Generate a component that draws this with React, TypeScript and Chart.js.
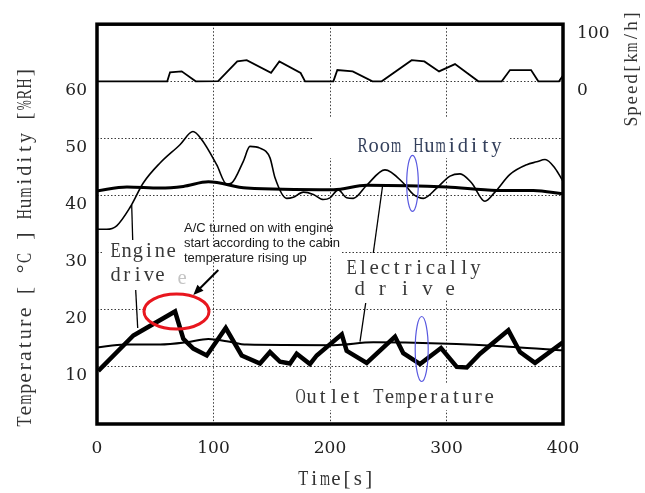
import React, { useEffect, useRef } from "react";
import { Chart, registerables } from "chart.js";

Chart.register(...registerables);

// ---------------- data ----------------
const timeTicks = [0, 100, 200, 300, 400];
const leftTicks = [10, 20, 30, 40, 50, 60];
const speedTicks = [0, 100];

const speedTime = [0, 60.3, 62.7, 72.7, 84.7, 104, 120.4, 128.5, 149.4, 156.5, 174.8, 178.6, 202.9, 206.3, 219.5, 236.4, 244.4, 270.1, 281, 293.6, 307.3, 327.3, 347.4, 354.5, 372.6, 378.8, 396.6, 400];
const speedKmh = [0, 0, 15.7, 17.4, 0, 0.5, 34.8, 37, 15, 34.8, 14.5, 0, 0, 19.7, 17.4, 0, 0, 37, 34.8, 17.4, 30.2, 0, 0, 19.7, 19.7, 0, 0, 10];

const humidityTime = [0, 8.3, 16.9, 28.3, 39.7, 54.1, 71.2, 82.4, 89.8, 102.7, 111.3, 115.6, 125.6, 131.3, 139.9, 148.5, 152.8, 162.8, 168.5, 177.1, 185.7, 194.3, 200, 207.1, 214.3, 220, 231.5, 247.2, 262.9, 271.5, 280.1, 291.6, 303, 311.6, 321.6, 333, 341.6, 354.5, 368.9, 377.4, 384.6, 393.1, 400];
const humidityRH = [34.1, 34.1, 34.7, 37.9, 42.2, 45.7, 48.9, 51.2, 49.8, 45.4, 42.0, 42.2, 46.0, 48.6, 48.3, 46.6, 43.1, 39.5, 39.7, 40.6, 40.2, 39.3, 39.6, 41.0, 39.6, 39.5, 41.8, 44.5, 42.2, 40.2, 39.5, 41.3, 43.4, 43.8, 42.2, 39.0, 40.6, 43.7, 45.4, 45.9, 46.3, 44.8, 42.5];

const upperTime = [0, 25.7, 54.1, 74.1, 95.6, 128.5, 202.9, 231.5, 300.2, 343.1, 374.6, 400];
const upperValue = [40.8, 41.5, 41.3, 41.6, 42.4, 41.3, 41.0, 41.8, 41.5, 40.9, 40.9, 40.3];

const lowerTime = [0, 24.0, 54.1, 77, 95.6, 111.3, 128.5, 202.9, 237.2, 294.5, 357.4, 400];
const lowerValue = [13.4, 13.9, 13.9, 14.3, 14.9, 14.5, 13.9, 13.8, 14.3, 14.1, 13.5, 12.9];

const outletTime = [1.1, 31.2, 67, 74.1, 82.7, 94.2, 110.5, 124.2, 139.9, 148.5, 157.1, 165.7, 171.4, 182.8, 188.6, 210.1, 214.3, 231.5, 255.8, 262.9, 277.3, 295.3, 308.8, 317.4, 328.8, 353.1, 363.1, 376, 400];
const outletValue = [9.3, 15.5, 19.7, 14.9, 13.2, 12.0, 16.8, 12.0, 10.6, 12.6, 10.9, 10.6, 12.3, 10.5, 12.0, 15.7, 12.8, 10.7, 15.3, 12.4, 10.5, 13.3, 10.0, 9.9, 12.3, 16.4, 12.6, 10.7, 14.3];

// ---------------- texts ----------------
const leftTitle = "Temperature [ °C ] Humidity [%RH]";
const rightTitle = "Speed[km/h]";
const xTitle = "Time[s]";
const acNote = ["A/C turned on with engine", "start according to the cabin", "temperature rising up"];

const SERIF = "'Liberation Serif', 'Times New Roman', serif";
const TICK_FONT = { family: "'DejaVu Serif', serif", size: 17 };

const zip = (xs: number[], ys: number[]) => xs.map((x, i) => ({ x, y: ys[i] }));

function monoText(
  ctx: CanvasRenderingContext2D,
  text: string,
  x: number,
  y: number,
  cell: number,
  size: number,
  color: string,
  align: "left" | "center" = "left"
) {
  ctx.save();
  ctx.font = `${size}px ${SERIF}`;
  ctx.fillStyle = color;
  ctx.textAlign = "center";
  ctx.textBaseline = "alphabetic";
  const total = text.length * cell;
  const start = align === "center" ? x - total / 2 : x;
  for (let i = 0; i < text.length; i++) {
    const ch = text[i];
    if (ch === " ") continue;
    const w = ctx.measureText(ch).width;
    const maxW = cell * 0.92;
    const sx = w > maxW ? maxW / w : 1;
    ctx.save();
    ctx.translate(start + i * cell + cell / 2, y);
    ctx.scale(sx, 1);
    ctx.fillText(ch, 0, 0);
    ctx.restore();
  }
  ctx.restore();
}

const decorPlugin = {
  id: "decor",
  beforeDatasetsDraw(chart: any) {
    const ctx: CanvasRenderingContext2D = chart.ctx;
    ctx.save();
    ctx.fillStyle = "#ffffff";
    const erase = [
      [313, 117, 510, 158],
      [104, 240, 180, 288],
      [180, 248, 342, 256],
      [345, 256, 485, 300],
      [292, 384, 500, 410],
    ];
    for (const [x0, y0, x1, y1] of erase) ctx.fillRect(x0, y0, x1 - x0, y1 - y0);
    ctx.beginPath();
    ctx.ellipse(176.5, 311.5, 32.5, 17.5, 0, 0, Math.PI * 2);
    ctx.fill();
    ctx.restore();
  },
  afterDatasetsDraw(chart: any) {
    const ctx: CanvasRenderingContext2D = chart.ctx;
    const a = chart.chartArea;
    ctx.save();

    // frame
    ctx.strokeStyle = "#000";
    ctx.lineWidth = 3.5;
    ctx.strokeRect(a.left, a.top, a.right - a.left, a.bottom - a.top);

    // labels in plot
    const txt = "#383838";
    monoText(ctx, "Room Humidity", 357, 152, 11.15, 22, "#34405c");
    monoText(ctx, "Engine", 110, 257, 11.1, 21, txt);
    monoText(ctx, "drive", 110, 281, 11.1, 21, txt);
    monoText(ctx, "e", 177, 284, 10, 21, "#c4c4c4");
    monoText(ctx, "Electrically", 346, 274, 11.25, 21, txt);
    monoText(ctx, "d r i v e", 354, 295, 11.3, 21, txt);
    monoText(ctx, "Outlet Temperature", 295, 403, 11.1, 21, txt);

    // A/C note
    ctx.font = "13px 'Liberation Sans', Arial, sans-serif";
    ctx.fillStyle = "#1a1a1a";
    ctx.textAlign = "left";
    ctx.textBaseline = "alphabetic";
    acNote.forEach((line, i) => ctx.fillText(line, 184, 232 + i * 15));

    // leader lines
    ctx.strokeStyle = "#000";
    ctx.lineWidth = 1.3;
    const leaders = [
      [131.7, 205, 132.7, 240],
      [135.7, 290, 137.7, 328],
      [382.7, 185, 373.3, 253],
      [365.7, 303, 360, 341.7],
    ];
    for (const [x0, y0, x1, y1] of leaders) {
      ctx.beginPath();
      ctx.moveTo(x0, y0);
      ctx.lineTo(x1, y1);
      ctx.stroke();
    }

    // arrow
    const ax0 = 218.3, ay0 = 270, ax1 = 193.3, ay1 = 295;
    ctx.lineWidth = 2;
    ctx.beginPath();
    ctx.moveTo(ax0, ay0);
    ctx.lineTo(ax1 + 5, ay1 - 5);
    ctx.stroke();
    const ang = Math.atan2(ay1 - ay0, ax1 - ax0);
    ctx.fillStyle = "#000";
    ctx.beginPath();
    ctx.moveTo(ax1, ay1);
    ctx.lineTo(ax1 - 11 * Math.cos(ang - 0.4), ay1 - 11 * Math.sin(ang - 0.4));
    ctx.lineTo(ax1 - 11 * Math.cos(ang + 0.4), ay1 - 11 * Math.sin(ang + 0.4));
    ctx.closePath();
    ctx.fill();

    // red ellipse
    ctx.strokeStyle = "#e8161e";
    ctx.lineWidth = 3;
    ctx.beginPath();
    ctx.ellipse(176.5, 311.5, 32.5, 17.5, 0, 0, Math.PI * 2);
    ctx.stroke();

    // blue ellipses
    ctx.strokeStyle = "#5858e0";
    ctx.lineWidth = 1.2;
    ctx.beginPath();
    ctx.ellipse(412.5, 183.3, 5.8, 28, 0, 0, Math.PI * 2);
    ctx.stroke();
    ctx.beginPath();
    ctx.ellipse(421.7, 349, 6.5, 32.5, 0, 0, Math.PI * 2);
    ctx.stroke();

    // axis titles
    ctx.save();
    ctx.translate(31, 247);
    ctx.rotate(-Math.PI / 2);
    monoText(ctx, leftTitle, 0, 0, 10.9, 22, "#333", "center");
    ctx.restore();

    ctx.save();
    ctx.translate(637, 68.5);
    ctx.rotate(-Math.PI / 2);
    monoText(ctx, rightTitle, 0, 0, 10.6, 19, "#333", "center");
    ctx.restore();

    monoText(ctx, xTitle, 336, 485, 10.9, 21, "#333", "center");

    ctx.restore();
  },
};

export default function App() {
  const ref = useRef<HTMLCanvasElement | null>(null);

  useEffect(() => {
    document.body.style.margin = "0";
    const canvas = ref.current;
    if (!canvas) return;
    const gridColor = (c: any) => {
      const v = c.tick ? c.tick.value : null;
      return v === 0 || v === 400 ? "rgba(0,0,0,0)" : "#3a3a3a";
    };
    const chart = new Chart(canvas, {
      type: "line",
      data: {
        datasets: [
          {
            label: "Outlet Temperature",
            data: zip(outletTime, outletValue),
            borderColor: "#000",
            borderWidth: 4.5,
            pointRadius: 0,
            tension: 0,
            yAxisID: "y",
          },
          {
            label: "Temperature (lower)",
            data: zip(lowerTime, lowerValue),
            borderColor: "#000",
            borderWidth: 2,
            pointRadius: 0,
            cubicInterpolationMode: "monotone",
            yAxisID: "y",
          },
          {
            label: "Temperature (upper)",
            data: zip(upperTime, upperValue),
            borderColor: "#000",
            borderWidth: 3,
            pointRadius: 0,
            cubicInterpolationMode: "monotone",
            yAxisID: "y",
          },
          {
            label: "Room Humidity",
            data: zip(humidityTime, humidityRH),
            borderColor: "#000",
            borderWidth: 1.6,
            pointRadius: 0,
            cubicInterpolationMode: "monotone",
            yAxisID: "y",
          },
          {
            label: "Speed",
            data: zip(speedTime, speedKmh),
            borderColor: "#000",
            borderWidth: 1.8,
            pointRadius: 0,
            tension: 0,
            yAxisID: "y2",
          },
        ],
      },
      options: {
        responsive: false,
        animation: false,
        devicePixelRatio: 1,
        layout: { padding: { top: 22, left: 0, right: 0, bottom: 0 } },
        plugins: { legend: { display: false }, tooltip: { enabled: false } },
        scales: {
          x: {
            type: "linear",
            min: 0,
            max: 400,
            afterBuildTicks: (s: any) => {
              s.ticks = timeTicks.map((v) => ({ value: v }));
            },
            afterFit: (s: any) => {
              s.height = 69;
            },
            ticks: { font: TICK_FONT, color: "#222", padding: 14, maxRotation: 0, autoSkip: false },
            grid: { drawTicks: false, color: gridColor, lineWidth: 1 },
            border: { display: false, dash: [1.5, 2] },
          },
          y: {
            position: "left",
            min: 0,
            max: 70,
            afterBuildTicks: (s: any) => {
              s.ticks = leftTicks.map((v) => ({ value: v }));
            },
            afterFit: (s: any) => {
              s.width = 97;
            },
            ticks: { font: TICK_FONT, color: "#222", padding: 10, labelOffset: 9 },
            grid: { drawTicks: false, color: "#3a3a3a", lineWidth: 1 },
            border: { display: false, dash: [1.5, 2] },
          },
          y2: {
            position: "right",
            min: -600,
            max: 100,
            afterBuildTicks: (s: any) => {
              s.ticks = speedTicks.map((v) => ({ value: v }));
            },
            afterFit: (s: any) => {
              s.width = 82;
            },
            ticks: { font: TICK_FONT, color: "#222", padding: 14, labelOffset: 9 },
            grid: { display: false, drawTicks: false },
            border: { display: false },
          },
        },
      },
      plugins: [decorPlugin],
    } as any);
    return () => chart.destroy();
  }, []);

  return (
    <div style={{ width: 645, height: 493 }}>
      <canvas ref={ref} width={645} height={493} style={{ display: "block" }} />
    </div>
  );
}
